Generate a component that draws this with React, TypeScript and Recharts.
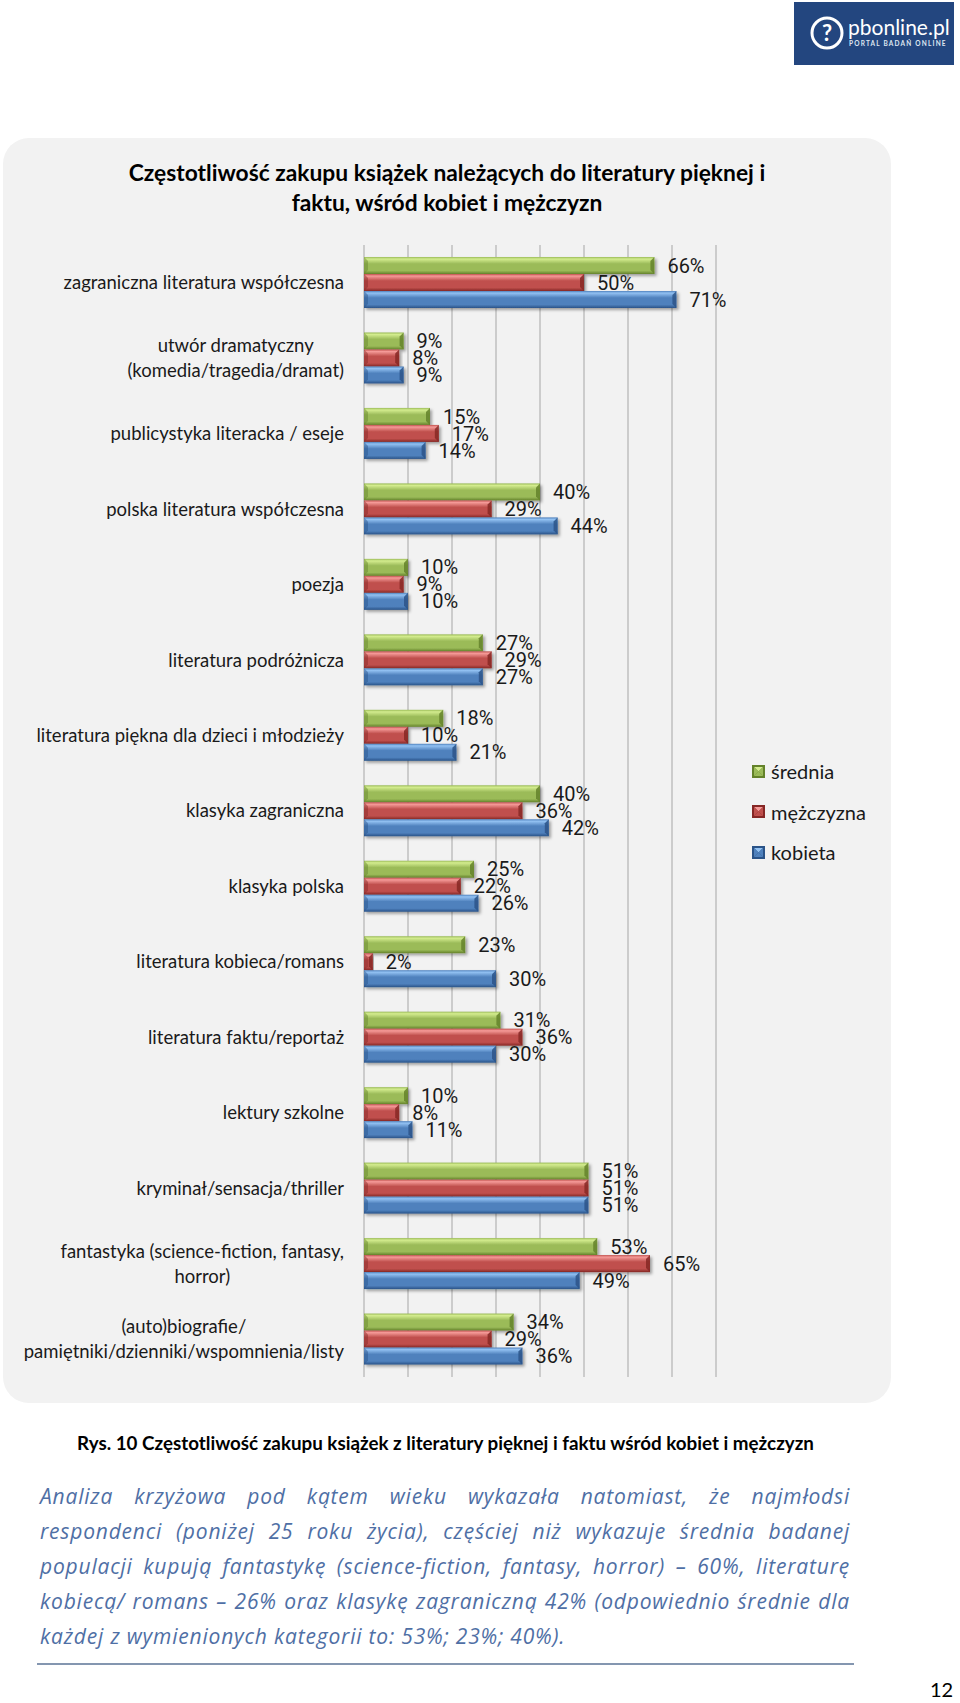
import React from 'react'
import { BarChart, Bar, XAxis, YAxis, CartesianGrid, LabelList } from 'recharts'

// Values (percent of respondents)
const categories = [
  'zagraniczna literatura współczesna',
  'utwór dramatyczny\n(komedia/tragedia/dramat)',
  'publicystyka literacka / eseje',
  'polska literatura współczesna',
  'poezja',
  'literatura podróżnicza',
  'literatura piękna dla dzieci i młodzieży',
  'klasyka zagraniczna',
  'klasyka polska',
  'literatura kobieca/romans',
  'literatura faktu/reportaż',
  'lektury szkolne',
  'kryminał/sensacja/thriller',
  'fantastyka (science-fiction, fantasy,\nhorror)',
  '(auto)biografie/\npamiętniki/dzienniki/wspomnienia/listy',
]
const srednia = [66, 9, 15, 40, 10, 27, 18, 40, 25, 23, 31, 10, 51, 53, 34]
const mezczyzna = [50, 8, 17, 29, 9, 29, 10, 36, 22, 2, 36, 8, 51, 65, 29]
const kobieta = [71, 9, 14, 44, 10, 27, 21, 42, 26, 30, 30, 11, 51, 49, 36]
const xTicks = [0, 10, 20, 30, 40, 50, 60, 70, 80]

const paragraphLines = [
  'Analiza krzyżowa pod kątem wieku wykazała natomiast, że najmłodsi',
  'respondenci (poniżej 25 roku życia), częściej niż wykazuje średnia badanej',
  'populacji kupują fantastykę (science-fiction, fantasy, horror) – 60%, literaturę',
  'kobiecą/ romans – 26% oraz klasykę zagraniczną 42% (odpowiednio średnie dla',
  'każdej z wymienionych kategorii to: 53%; 23%; 40%).',
]

const data = categories.map((name, i) => ({
  name,
  srednia: srednia[i],
  mezczyzna: mezczyzna[i],
  kobieta: kobieta[i],
}))

const SERIES = [
  { key: 'srednia', name: 'średnia', light: '#d3ec8e', base: '#9bbb59', dark: '#64822a' },
  { key: 'mezczyzna', name: 'mężczyzna', light: '#f59a98', base: '#c0504d', dark: '#862725' },
  { key: 'kobieta', name: 'kobieta', light: '#92c1f2', base: '#4f81bd', dark: '#2a5388' },
]

const FONT = 'Lato, "Open Sans", sans-serif'
const PARA_FONT = '"Open Sans", Lato, sans-serif'
const PARA_WIDTH = 810
const PARA_SIZE = 21
const PARA_LETTER = 0.8

let measureCtx: CanvasRenderingContext2D | null = null
function textWidth(s: string, font: string) {
  if (!measureCtx) measureCtx = document.createElement('canvas').getContext('2d')
  if (!measureCtx) return s.length * 8
  measureCtx.font = font
  return measureCtx.measureText(s).width
}

// Excel-style category label: single lines right aligned, wrapped lines centred on each other
function CategoryTick({ x, y, payload }: any) {
  const lines = String(payload.value).split('\n')
  const style = { fontFamily: FONT, fontSize: 18.5, fill: '#1a1a1a' }
  if (lines.length === 1) {
    return (
      <text x={x} y={y} dy="0.35em" textAnchor="end" style={style}>
        {lines[0]}
      </text>
    )
  }
  const lh = 25
  const maxW = Math.max(...lines.map((l) => textWidth(l, `18.5px ${FONT}`)))
  const cx = x - maxW / 2
  const y0 = y - ((lines.length - 1) * lh) / 2
  return (
    <text textAnchor="middle" style={style}>
      {lines.map((l, i) => (
        <tspan key={i} x={cx} y={y0 + i * lh} dy="0.35em">
          {l}
        </tspan>
      ))}
    </text>
  )
}

function makeBevelBar(s: (typeof SERIES)[number]) {
  return (props: any) => {
    const { x, y, width, height } = props
    if (!width || width <= 0) return <g />
    const b = Math.min(4, width / 2)
    return (
      <g filter="url(#barShadow)">
        <rect x={x} y={y} width={width} height={height} fill={`url(#grad-${s.key})`} />
        <polygon
          points={`${x},${y} ${x + b},${y + b} ${x + b},${y + height - b} ${x},${y + height}`}
          fill={s.dark}
          opacity={0.45}
        />
        <polygon
          points={`${x + width},${y} ${x + width - b},${y + b} ${x + width - b},${y + height - b} ${x + width},${y + height}`}
          fill={s.dark}
          opacity={0.85}
        />
      </g>
    )
  }
}

// grid lines at every tick value, positioned through the axis scale
function gridX({ xAxis, offset }: any) {
  const scale = xAxis && xAxis.scale
  if (typeof scale === 'function') return xTicks.map((t) => scale(t))
  return xTicks.map((t) => offset.left + (offset.width * t) / xTicks[xTicks.length - 1])
}

function ChartLegend() {
  return (
    <div style={{ position: 'absolute', left: 752, top: 751, fontFamily: FONT }}>
      {SERIES.map((s) => (
        <div key={s.key} style={{ display: 'flex', alignItems: 'center', height: 40.5 }}>
          <svg width={13} height={13} style={{ flex: 'none' }}>
            <rect x={0} y={0} width={13} height={13} fill={s.dark} />
            <polygon points="2,2 11,2 6.5,6.5" fill={s.light} />
            <polygon points="2,11 11,11 6.5,6.5" fill={s.base} />
            <polygon points="2,2 2,11 6.5,6.5" fill={s.base} />
            <polygon points="11,2 11,11 6.5,6.5" fill={s.base} />
          </svg>
          <span style={{ marginLeft: 6, fontSize: 20, color: '#1a1a1a' }}>{s.name}</span>
        </div>
      ))}
    </div>
  )
}

function Paragraph() {
  const font = `italic ${PARA_SIZE}px ${PARA_FONT}`
  return (
    <div style={{ position: 'absolute', left: 40, top: 1479, width: PARA_WIDTH }}>
      {paragraphLines.map((line, i) => {
        const last = i === paragraphLines.length - 1
        const spaces = line.split(' ').length - 1
        const natural = textWidth(line, font) + PARA_LETTER * line.length
        const ws = last || spaces === 0 ? 0 : (PARA_WIDTH - natural) / spaces
        return (
          <div
            key={i}
            style={{
              fontFamily: PARA_FONT,
              fontStyle: 'italic',
              fontSize: PARA_SIZE,
              letterSpacing: PARA_LETTER,
              lineHeight: '35px',
              color: '#4f6fa5',
              whiteSpace: 'nowrap',
              wordSpacing: ws,
            }}
          >
            {line}
          </div>
        )
      })}
    </div>
  )
}

export default function App() {
  return (
    <div
      style={{
        position: 'absolute',
        left: 0,
        top: 0,
        width: 960,
        height: 1703,
        background: '#ffffff',
        fontFamily: FONT,
        overflow: 'hidden',
      }}
    >
      {/* logo */}
      <div
        style={{
          position: 'absolute',
          left: 794,
          top: 2,
          width: 160,
          height: 63,
          background: '#23467f',
          color: '#fff',
        }}
      >
        <svg width={160} height={63}>
          <circle cx={33} cy={31} r={15} fill="none" stroke="#fff" strokeWidth={3} />
          <text x={33} y={39} textAnchor="middle" fill="#fff" style={{ fontFamily: FONT, fontSize: 22, fontWeight: 700 }}>
            ?
          </text>
          <text x={54} y={33} fill="#fff" style={{ fontFamily: FONT, fontSize: 21 }}>
            pbonline.pl
          </text>
          <text x={55} y={44} fill="#dfe6f2" style={{ fontFamily: FONT, fontSize: 6.5, fontWeight: 700, letterSpacing: 1.2 }}>
            PORTAL BADAŃ ONLINE
          </text>
        </svg>
      </div>

      {/* chart panel */}
      <div
        style={{
          position: 'absolute',
          left: 3,
          top: 138,
          width: 888,
          height: 1265,
          background: '#f2f2f2',
          borderRadius: 26,
        }}
      />
      <div
        style={{
          position: 'absolute',
          left: 3,
          top: 157,
          width: 888,
          textAlign: 'center',
          fontWeight: 700,
          fontSize: 22.8,
          lineHeight: '30px',
          color: '#000',
        }}
      >
        Częstotliwość zakupu książek należących do literatury pięknej i
        <br />
        faktu, wśród kobiet i mężczyzn
      </div>

      <div style={{ position: 'absolute', left: 0, top: 0 }}>
        <BarChart
          width={960}
          height={1420}
          data={data}
          layout="vertical"
          margin={{ top: 245, right: 244, bottom: 43, left: 0 }}
          barSize={17}
          barGap={0}
        >
          <defs>
            {SERIES.map((s) => (
              <linearGradient key={s.key} id={`grad-${s.key}`} x1="0" y1="0" x2="0" y2="1">
                <stop offset="0%" stopColor={s.base} />
                <stop offset="12%" stopColor={s.light} />
                <stop offset="40%" stopColor={s.base} />
                <stop offset="80%" stopColor={s.base} />
                <stop offset="100%" stopColor={s.dark} />
              </linearGradient>
            ))}
            <filter id="barShadow" x="-5%" y="-20%" width="115%" height="160%">
              <feDropShadow dx={2} dy={2} stdDeviation={1.5} floodColor="#000" floodOpacity={0.35} />
            </filter>
          </defs>
          <CartesianGrid horizontal={false} stroke="#a6a6a6" verticalCoordinatesGenerator={gridX} />
          <XAxis
            type="number"
            domain={[0, 80]}
            ticks={xTicks}
            interval={0}
            tick={false}
            axisLine={false}
            tickLine={false}
            height={0}
          />
          <YAxis
            type="category"
            dataKey="name"
            width={364}
            tick={<CategoryTick />}
            axisLine={false}
            tickLine={false}
            tickSize={0}
            tickMargin={20}
            interval={0}
          />
          {SERIES.map((s) => (
            <Bar
              key={s.key}
              dataKey={s.key}
              name={s.name}
              fill={s.base}
              shape={makeBevelBar(s)}
              isAnimationActive={false}
            >
              <LabelList
                dataKey={s.key}
                position="right"
                offset={13}
                formatter={(v: any) => `${v}%`}
                style={{ fontFamily: 'Roboto, sans-serif', fontSize: 20, fill: '#1a1a1a' }}
              />
            </Bar>
          ))}
        </BarChart>
      </div>
      <ChartLegend />

      {/* caption */}
      <div
        style={{
          position: 'absolute',
          left: 77,
          top: 1431,
          fontWeight: 700,
          fontSize: 18.8,
          lineHeight: '24px',
          color: '#000',
          whiteSpace: 'nowrap',
        }}
      >
        Rys. 10 Częstotliwość zakupu książek z literatury pięknej i faktu wśród kobiet i mężczyzn
      </div>

      <Paragraph />
      <div style={{ position: 'absolute', left: 37, top: 1663, width: 817, height: 2, background: '#8496b0' }} />

      <div style={{ position: 'absolute', left: 930, top: 1677, fontSize: 20, color: '#000' }}>12</div>
    </div>
  )
}
